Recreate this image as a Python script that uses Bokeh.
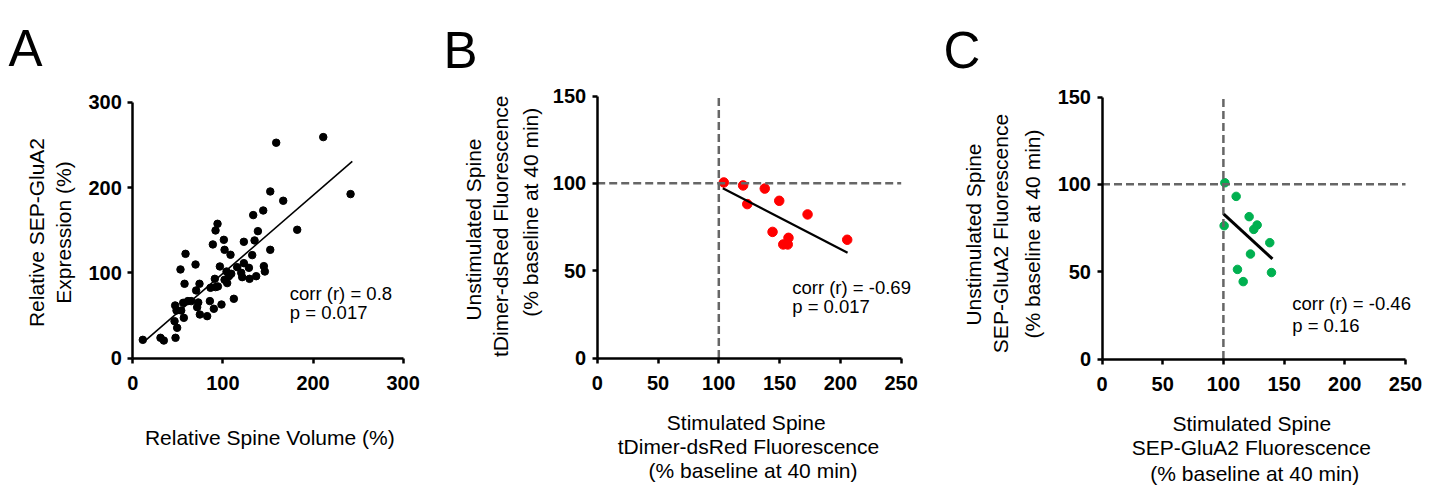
import math
from bokeh.plotting import figure
from bokeh.models import Range1d, FixedTicker, Label, LinearAxis
from bokeh.layouts import row
from bokeh.embed import file_html
from bokeh.resources import INLINE

FONT = "Liberation Sans"

# ---------------- data ----------------
# Panel A: relative spine volume vs relative SEP-GluA2 expression
a_x = [11.1, 30.7, 34.4, 47.4, 46.3, 49.2, 47.0, 48.5, 53.7, 56.6, 55.9, 61.1, 64.8,
       57.4, 52.9, 58.5, 69.6, 70.3, 72.6, 71.4, 74.4, 74.0, 82.5, 85.5, 86.2, 89.9,
       91.8, 94.4, 91.0, 96.6, 88.8, 91.8, 94.0, 98.4, 101.8, 104.7, 101.0, 101.8,
       108.4, 104.0, 106.6, 109.2, 112.1, 115.8, 120.3, 121.4, 123.2, 123.2, 128.8,
       129.5, 132.5, 135.1, 136.9, 138.8, 133.6, 145.4, 146.5, 144.7, 152.5, 152.5,
       159.1, 166.9, 182.4, 211.3, 241.6]
a_y = [21.5, 23.9, 20.7, 23.9, 43.4, 35.6, 61.8, 55.9, 55.9, 47.3, 64.9, 66.9, 66.9,
       87.2, 104.0, 122.3, 109.8, 79.4, 65.3, 59.8, 51.2, 87.2, 49.3, 66.9, 82.5, 57.9,
       83.3, 84.1, 93.0, 107.5, 133.3, 149.7, 157.5, 62.9, 91.9, 88.0, 138.7, 127.0,
       121.2, 101.6, 96.1, 98.9, 69.6, 106.7, 100.1, 95.0, 111.4, 136.4, 105.9,
       93.0, 120.8, 138.0, 96.1, 148.9, 167.7, 107.9, 101.6, 173.1, 127.0, 195.4,
       252.5, 184.5, 150.5, 259.1, 192.3]
a_fit_x = [14.8, 243.5]
a_fit_y = [21.5, 230.6]
a_ticks = [0, 100, 200, 300]
a_stats = ["corr (r) = 0.8", "p = 0.017"]

# Panel B: tDimer-dsRed
b_x = [104.1, 120.0, 123.4, 137.8, 149.7, 144.2, 157.3, 153.0, 156.7, 173.0, 205.6]
b_y = [100.5, 98.8, 88.1, 97.0, 90.0, 72.2, 68.8, 65.0, 65.0, 82.2, 67.7]
b_fit_x = [103.3, 205.9]
b_fit_y = [97.2, 60.2]
b_stats = ["corr (r) = -0.69", "p = 0.017"]

# Panel C: SEP-GluA2
c_x = [101.2, 110.5, 100.6, 121.2, 127.8, 125.0, 138.2, 122.3, 111.6, 116.3, 139.6]
c_y = [100.9, 93.1, 76.3, 81.5, 76.7, 74.2, 66.6, 60.1, 51.3, 44.3, 49.5]
c_fit_x = [100.3, 140.4]
c_fit_y = [83.0, 57.3]
c_stats = ["corr (r) = -0.46", "p = 0.16"]

bc_xticks = [0, 50, 100, 150, 200, 250]
bc_yticks = [0, 50, 100, 150]
baseline_level = 100

H = 485  # canvas height (px)


class Panel:
    """A figure whose frame fills the canvas; axes are placed at data 0."""

    def __init__(self, left, width, xlim, ylim, x0px, x1px, y0px, y1px, xticks, yticks):
        self.left = left
        sx = (x1px - x0px) / (xlim[1] - xlim[0])
        sy = (y0px - y1px) / (ylim[1] - ylim[0])
        xs = xlim[0] - (x0px - left) / sx
        ys = ylim[0] - (H - y0px) / sy
        self.sx, self.sy, self.xs, self.ys = sx, sy, xs, ys
        p = figure(frame_width=width, frame_height=H,
                   x_range=Range1d(xs, xs + width / sx),
                   y_range=Range1d(ys, ys + H / sy),
                   x_axis_location=None, y_axis_location=None,
                   output_backend="svg", toolbar_location=None,
                   min_border=0, min_border_left=0, min_border_right=0,
                   min_border_top=0, min_border_bottom=0)
        p.outline_line_color = None
        p.grid.visible = False
        p.background_fill_color = "white"
        p.border_fill_color = "white"
        xa = LinearAxis(fixed_location=ylim[0], bounds=xlim,
                        ticker=FixedTicker(ticks=xticks))
        ya = LinearAxis(fixed_location=xlim[0], bounds=ylim,
                        ticker=FixedTicker(ticks=yticks))
        for ax in (xa, ya):
            ax.axis_line_width = 2.5
            ax.axis_line_color = "black"
            ax.major_tick_line_width = 2.5
            ax.major_tick_line_color = "black"
            ax.major_tick_in = 0
            ax.major_tick_out = 5
            ax.minor_tick_line_color = None
            ax.major_label_text_font = FONT
            ax.major_label_text_font_style = "bold"
            ax.major_label_text_font_size = "20px"
            ax.major_label_text_color = "black"
        xa.major_label_standoff = 13
        ya.major_label_standoff = 6
        p.add_layout(xa, "below")
        p.add_layout(ya, "left")
        self.p = p

    def dx(self, px):
        return self.xs + (px - self.left) / self.sx

    def dy(self, py):
        return self.ys + (H - py) / self.sy

    def text(self, s, px, py, size, angle=0.0, align="left", baseline="alphabetic"):
        self.p.add_layout(Label(x=self.dx(px), y=self.dy(py), text=s, angle=angle,
                                text_font=FONT, text_font_size=size,
                                text_align=align, text_baseline=baseline,
                                text_color="black"))

    def ytitle(self, s, px, py):
        self.text(s, px, py, "21px", angle=math.pi / 2, align="center", baseline="middle")

    def xtitle(self, s, px, py):
        self.text(s, px, py, "21px", align="center")


# ---------------- Panel A ----------------
A = Panel(0, 440, (0, 300), (0, 300), 132.3, 402.7, 357.7, 101.7, a_ticks, a_ticks)
A.p.scatter(a_x, a_y, size=7.5, color="black")
A.p.line(a_fit_x, a_fit_y, line_color="black", line_width=1.6)
A.text(a_stats[0], 289.3, 293, "18.5px", baseline="middle")
A.text(a_stats[1], 289.3, 312, "18.5px", baseline="middle")
A.text("A", 8, 48, "51px")
A.ytitle("Relative SEP-GluA2", 36, 232)
A.ytitle("Expression (%)", 63, 232)
A.xtitle("Relative Spine Volume (%)", 269.3, 436.7)

# ---------------- Panel B ----------------
B = Panel(440, 500, (0, 250), (0, 150), 596.7, 900.7, 357.5, 95.5, bc_xticks, bc_yticks)
B.p.scatter(b_x, b_y, size=9.5, color="#FF0000")
B.p.line([0, 250], [baseline_level, baseline_level], line_color="#666666",
         line_width=2.5, line_dash="8 4")
B.p.line([baseline_level, baseline_level], [0, 150], line_color="#666666",
         line_width=2.5, line_dash="8 4")
B.p.line(b_fit_x, b_fit_y, line_color="black", line_width=2.2)
B.text(b_stats[0], 791.7, 286.7, "18.5px", baseline="middle")
B.text(b_stats[1], 791.7, 306, "18.5px", baseline="middle")
B.text("B", 443, 50, "51px")
B.ytitle("Unstimulated Spine", 473.3, 229)
B.ytitle("tDimer-dsRed Fluorescence", 500, 225.8)
B.ytitle("(% baseline at 40 min)", 530, 211.7)
B.xtitle("Stimulated Spine", 745.7, 421.7)
B.xtitle("tDimer-dsRed Fluorescence", 748, 446)
B.xtitle("(% baseline at 40 min)", 752.5, 470)

# ---------------- Panel C ----------------
C = Panel(940, 490, (0, 250), (0, 150), 1101.5, 1405, 358.5, 96.5, bc_xticks, bc_yticks)
C.p.scatter(c_x, c_y, size=8.5, color="#00B050")
C.p.line([0, 250], [baseline_level, baseline_level], line_color="#666666",
         line_width=2.5, line_dash="8 4")
C.p.line([baseline_level, baseline_level], [0, 150], line_color="#666666",
         line_width=2.5, line_dash="8 4")
C.p.line(c_fit_x, c_fit_y, line_color="black", line_width=3)
C.text(c_stats[0], 1291.7, 303.3, "18.5px", baseline="middle")
C.text(c_stats[1], 1291.7, 325, "18.5px", baseline="middle")
C.text("C", 943, 50, "51px")
C.ytitle("Unstimulated Spine", 973.3, 234)
C.ytitle("SEP-GluA2 Fluorescence", 1000, 233)
C.ytitle("(% baseline at 40 min)", 1031.7, 233.5)
C.xtitle("Stimulated Spine", 1251.3, 423.3)
C.xtitle("SEP-GluA2 Fluorescence", 1250.8, 447.3)
C.xtitle("(% baseline at 40 min)", 1254.3, 473.3)

layout = row(A.p, B.p, C.p)
open("out.html", "w").write(file_html(layout, INLINE))
